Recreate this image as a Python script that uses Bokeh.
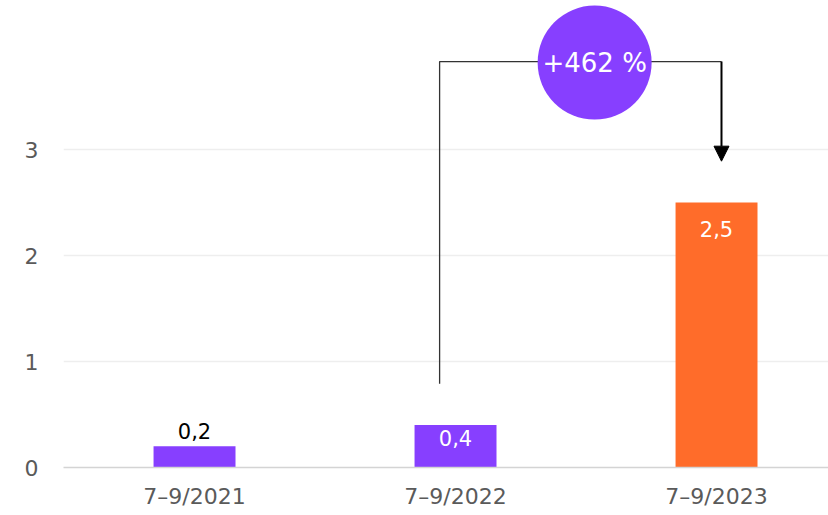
from bokeh.plotting import figure
from bokeh.models import Range1d, FixedTicker, ColumnDataSource, Arrow, NormalHead
from bokeh.core.properties import value
from bokeh.embed import file_html
from bokeh.resources import INLINE

# data
categories = ["7–9/2021", "7–9/2022", "7–9/2023"]
values = [0.2, 0.4, 2.5]
labels = ["0,2", "0,4", "2,5"]
change_label = "+462 %"
y_ticks = [0, 1, 2, 3]

# styling
PURPLE = "#873FFF"
ORANGE = "#FF6C2A"
bar_colors = [PURPLE, PURPLE, ORANGE]
label_colors = ["#000000", "#ffffff", "#ffffff"]
label_baselines = ["bottom", "top", "top"]
label_offsets = [-7, 5, 18]
FONT = "DejaVu Sans"

xs = list(range(len(categories)))

p = figure(width=828, height=515, output_backend="svg", toolbar_location=None,
           x_range=Range1d(-0.502, 2.429), y_range=Range1d(0, 4.406),
           min_border_left=63, min_border_right=0, min_border_top=0, min_border_bottom=48)
p.outline_line_color = None
p.background_fill_color = "white"
p.border_fill_color = "white"

src = ColumnDataSource(dict(x=xs, top=values, color=bar_colors, label=labels,
                            lcolor=label_colors, base=label_baselines, off=label_offsets))
p.vbar(x="x", top="top", width=0.314, bottom=0, fill_color="color", line_color=None, source=src)
p.text(x="x", y="top", text="label", text_color="lcolor", text_baseline="base",
       y_offset="off", text_align="center", text_font=value(FONT), text_font_size="21px",
       source=src)

# annotation: change from 2022 to 2023
y_top = 3.83
x_left = xs[1] - 0.061
x_right = xs[2] + 0.019
p.line([x_left, x_left, x_right], [0.79, y_top, y_top], line_color="#333333", line_width=1.3)
p.add_layout(Arrow(end=NormalHead(size=15, fill_color="black", line_color="black"),
                   x_start=x_right, y_start=y_top, x_end=x_right, y_end=2.89,
                   line_color="black", line_width=2))
cx = (xs[1] + xs[2]) / 2 + 0.033
p.scatter([cx], [3.82], size=114, fill_color=PURPLE, line_color=None)
p.text([cx], [3.82], text=[change_label], text_color="white", text_align="center",
       text_baseline="middle", text_font=value(FONT), text_font_size="26px")

# axes
p.xaxis.ticker = FixedTicker(ticks=xs)
p.xaxis.major_label_overrides = {i: c for i, c in zip(xs, categories)}
p.yaxis.ticker = FixedTicker(ticks=y_ticks)
for ax in (p.xaxis, p.yaxis):
    ax.major_tick_line_color = None
    ax.minor_tick_line_color = None
    ax.major_tick_out = 0
    ax.major_tick_in = 0
    ax.minor_tick_out = 0
    ax.minor_tick_in = 0
    ax.major_label_text_font = FONT
    ax.major_label_text_font_size = "22px"
    ax.major_label_text_color = "#5a5a5a"
p.yaxis.axis_line_color = None
p.yaxis.major_label_standoff = 25
p.xaxis.axis_line_color = "#d4d4d4"
p.xaxis.axis_line_width = 1.5
p.xaxis.major_label_standoff = 16
p.xgrid.grid_line_color = None
p.ygrid.grid_line_color = "#eeeeee"
p.ygrid.grid_line_width = 1.5

open("out.html", "w").write(file_html(p, INLINE))
